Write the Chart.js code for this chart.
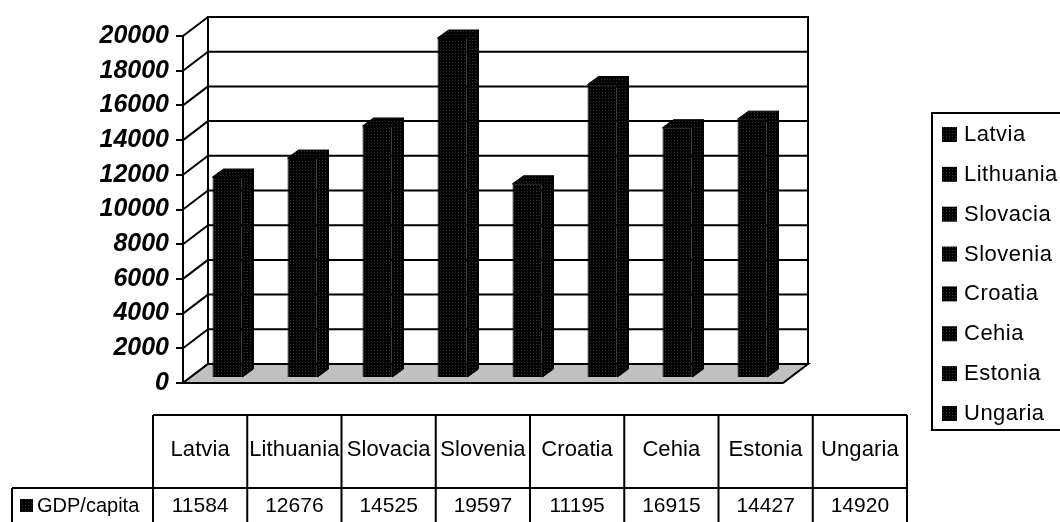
<!DOCTYPE html>
<html><head><meta charset="utf-8">
<script src="https://cdn.jsdelivr.net/npm/chart.js@4.4.0/dist/chart.umd.min.js"></script>
<style>html,body{margin:0;padding:0;background:#fff;overflow:hidden}#wrap{width:1060px;height:522px;position:relative}canvas{display:block}</style>
</head><body><div id="wrap"><canvas id="c" width="1060" height="522" style="width:1060px;height:522px"></canvas></div>
<script>
const categories = ['Latvia','Lithuania','Slovacia','Slovenia','Croatia','Cehia','Estonia','Ungaria'];
const gdpPerCapita = [11584,12676,14525,19597,11195,16915,14427,14920];
const seriesName = 'GDP/capita';
const yTickValues = [0,2000,4000,6000,8000,10000,12000,14000,16000,18000,20000];
const yTickLabels = ['0','2000','4000','6000','8000','10000','12000','14000','16000','18000','20000'];

const canvas = document.getElementById('c');
const ctx0 = canvas.getContext('2d');
function makePattern(){
  const p = document.createElement('canvas'); p.width = 3; p.height = 3;
  const g = p.getContext('2d');
  g.fillStyle = '#000'; g.fillRect(0,0,3,3);
  g.fillStyle = '#333'; g.fillRect(1,1,1,1);
  return ctx0.createPattern(p,'repeat');
}
const pat = makePattern();

// 3D geometry
const WALL_DX = 25, WALL_DY = -19;
const BAR_SHIFT_X = 7, BAR_SHIFT_Y = -5;
const BAR_DEPTH_X = 11, BAR_DEPTH_Y = -8;
const FONT = '"Liberation Sans", Arial, sans-serif';

function setSpacing(ctx, v){ if ('letterSpacing' in ctx) ctx.letterSpacing = v; }

const scene3d = {
  id: 'scene3d',
  beforeDatasetsDraw(chart){
    const ctx = chart.ctx, y = chart.scales.y;
    const {left, right, bottom} = chart.chartArea;
    const topV = y.getPixelForValue(y.max);
    ctx.save();
    ctx.lineWidth = 2; ctx.strokeStyle = '#000';
    ctx.fillStyle = '#fff';
    ctx.fillRect(left+WALL_DX, topV+WALL_DY, right-left, bottom-topV);
    ctx.strokeRect(left+WALL_DX, topV+WALL_DY, right-left, bottom-topV);
    ctx.beginPath();
    y.ticks.forEach(t => {
      const py = y.getPixelForValue(t.value);
      ctx.moveTo(left+WALL_DX, py+WALL_DY); ctx.lineTo(right+WALL_DX, py+WALL_DY);
      ctx.moveTo(left, py); ctx.lineTo(left+WALL_DX, py+WALL_DY);
    });
    ctx.stroke();
    ctx.beginPath();
    ctx.moveTo(left, bottom); ctx.lineTo(right, bottom);
    ctx.lineTo(right+WALL_DX, bottom+WALL_DY); ctx.lineTo(left+WALL_DX, bottom+WALL_DY);
    ctx.closePath();
    ctx.fillStyle = '#c0c0c0'; ctx.fill(); ctx.stroke();
    ctx.restore();
  },
  beforeDatasetDraw(chart){
    chart.ctx.save();
    chart.ctx.translate(BAR_SHIFT_X, BAR_SHIFT_Y);
  },
  afterDatasetDraw(chart){
    chart.ctx.restore();
  },
  afterDatasetsDraw(chart){
    const ctx = chart.ctx;
    const meta = chart.getDatasetMeta(0);
    ctx.save();
    ctx.lineWidth = 1; ctx.strokeStyle = '#000'; ctx.fillStyle = pat;
    meta.data.forEach(el => {
      const p = el.getProps(['x','y','base','width'], true);
      const l = p.x - p.width/2 + BAR_SHIFT_X, r = p.x + p.width/2 + BAR_SHIFT_X;
      const t = p.y + BAR_SHIFT_Y, b = p.base + BAR_SHIFT_Y;
      ctx.beginPath();
      ctx.moveTo(r, t); ctx.lineTo(r+BAR_DEPTH_X, t+BAR_DEPTH_Y);
      ctx.lineTo(r+BAR_DEPTH_X, b+BAR_DEPTH_Y); ctx.lineTo(r, b); ctx.closePath();
      ctx.fill(); ctx.stroke();
      ctx.beginPath();
      ctx.moveTo(l, t); ctx.lineTo(r, t);
      ctx.lineTo(r+BAR_DEPTH_X, t+BAR_DEPTH_Y); ctx.lineTo(l+BAR_DEPTH_X, t+BAR_DEPTH_Y); ctx.closePath();
      ctx.fill(); ctx.stroke();
    });
    ctx.restore();
  },
  afterDraw(chart){
    const ctx = chart.ctx;
    ctx.save();
    // ---- data table ----
    const tLeft = 153, colW = 94.25, hTop = 415, split = 488, rBottom = 526, lblLeft = 12;
    const tRight = tLeft + colW*categories.length;
    ctx.lineWidth = 2; ctx.strokeStyle = '#000';
    ctx.beginPath();
    ctx.moveTo(tLeft, hTop); ctx.lineTo(tRight, hTop);
    ctx.moveTo(lblLeft, split); ctx.lineTo(tRight, split);
    ctx.moveTo(lblLeft, split); ctx.lineTo(lblLeft, rBottom);
    for (let i=0;i<=categories.length;i++){
      const x = tLeft + colW*i;
      ctx.moveTo(x, hTop); ctx.lineTo(x, rBottom);
    }
    ctx.stroke();
    ctx.fillStyle = '#000';
    ctx.textAlign = 'center'; ctx.textBaseline = 'middle';
    categories.forEach((c,i) => {
      const cx = tLeft + colW*(i+0.5);
      ctx.font = '22px ' + FONT; setSpacing(ctx, '0.1px');
      ctx.fillText(c, cx, 450);
      ctx.font = '21px ' + FONT; setSpacing(ctx, '0px');
      ctx.fillText(String(gdpPerCapita[i]), cx, 506);
    });
    ctx.textAlign = 'left';
    ctx.fillStyle = pat; ctx.fillRect(20, 499, 13, 13);
    ctx.fillStyle = '#000';
    ctx.font = '20px ' + FONT; setSpacing(ctx, '0px');
    ctx.fillText(seriesName, 37, 506);
    // ---- legend ----
    const lgLeft = 932, lgTop = 113, lgBottom = 430;
    ctx.lineWidth = 2;
    ctx.strokeRect(lgLeft, lgTop, 200, lgBottom-lgTop);
    ctx.font = '22px ' + FONT; setSpacing(ctx, '0.5px');
    categories.forEach((c,i) => {
      const cy = 134 + i*39.85;
      ctx.fillStyle = pat; ctx.fillRect(942, cy-7, 15, 15);
      ctx.fillStyle = '#000';
      ctx.fillText(c, 964, cy+1);
    });
    ctx.restore();
  }
};

new Chart(canvas, {
  type: 'bar',
  data: {
    labels: categories,
    datasets: [{
      label: seriesName,
      data: gdpPerCapita,
      backgroundColor: pat,
      borderColor: '#000',
      borderWidth: 1,
      barPercentage: 0.4,
      categoryPercentage: 1.0
    }]
  },
  options: {
    responsive: false,
    animation: false,
    devicePixelRatio: 1,
    layout: { padding: { top: 36, right: 277, bottom: 139, left: 0 } },
    plugins: { legend: { display: false }, tooltip: { enabled: false } },
    scales: {
      x: { display: false },
      y: {
        min: 0, max: 20000,
        afterFit(scale){ scale.width = 183; },
        afterBuildTicks(scale){ scale.ticks = yTickValues.map(v => ({value: v})); },
        ticks: {
          color: '#000',
          padding: 7,
          font: { family: FONT, size: 25, weight: 'bold', style: 'italic' },
          callback: (v) => { const i = yTickValues.indexOf(v); return i >= 0 ? yTickLabels[i] : ''; }
        },
        grid: { drawOnChartArea: false, drawTicks: true, tickLength: 7, color: '#000', lineWidth: 2 },
        border: { display: true, color: '#000', width: 2 }
      }
    }
  },
  plugins: [scene3d]
});
</script></body></html>
